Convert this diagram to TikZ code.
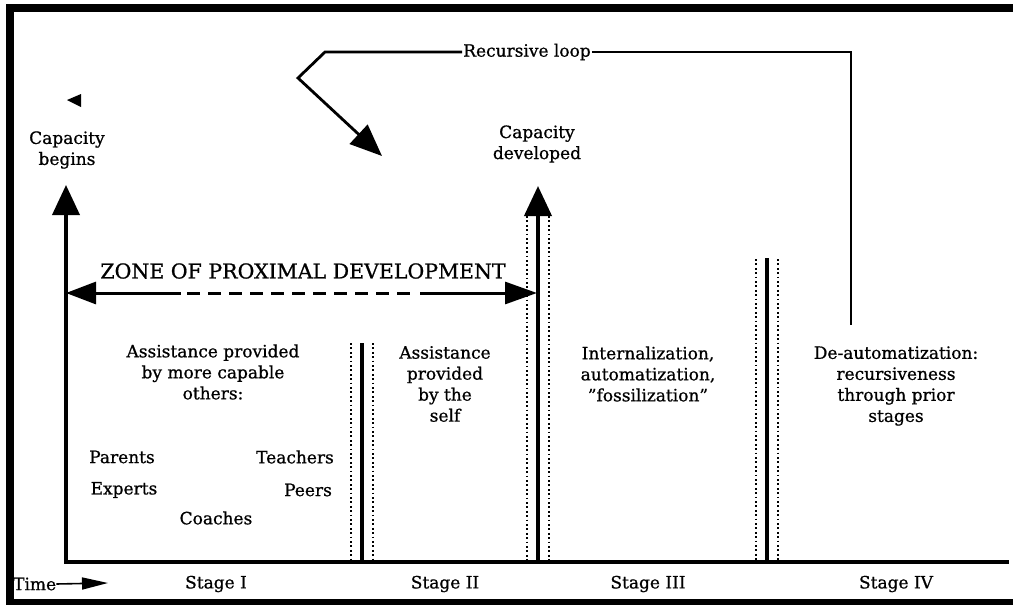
\documentclass[tikz,border=0pt]{standalone}
\usepackage{fontspec}
\setmainfont{DejaVu Serif}[FakeBold=0.8]
\usetikzlibrary{arrows.meta}
\begin{document}
\begin{tikzpicture}[x=1pt,y=-1pt,
  lbl/.style={font=\fontsize{17}{21}\selectfont, align=center, inner sep=0pt},
  axisline/.style={line width=3.8pt},
  bigtip/.style={-{Triangle[length=30pt,width=27pt]}},
  loopline/.style={line width=2.8pt},
  dotcol/.style={line width=2.4pt, dash pattern=on 1.8pt off 2.6pt},
  divline/.style={line width=4pt}]
\useasboundingbox (0,0) rectangle (1013,605);
\begin{scope}
  \clip (0,0) rectangle (1013,605);
  \draw[line width=8pt] (10,8) rectangle (1030,603);
\end{scope}

% axes
\coordinate (O) at (66,562);
\coordinate (E) at (1009,562);
\coordinate (cbtip) at (66,185);
\draw[axisline] (64.1,562) -- (E);
\draw[axisline, bigtip] (66,563.9) -- (cbtip);

% stray small triangle
\fill (67,100) -- (81,94) -- (81,107) -- cycle;

% dividers
\coordinate (d1t) at (362,343); \coordinate (d1b) at (362,562);
\coordinate (d2t) at (538,186); \coordinate (d2b) at (538,562);
\coordinate (d3t) at (767,258); \coordinate (d3b) at (767,562);
\draw[divline] (d1b) -- (d1t);
\draw[divline, bigtip] (d2b) -- (d2t);
\draw[divline] (d3b) -- (d3t);
\foreach \xx/\yt in {362/343, 538/216, 767/259} {
  \foreach \dx in {-11, 11} {
    \draw[dotcol] (\xx+\dx, \yt) -- (\xx+\dx, 560);
  }
}

% capacity labels
\node[lbl] (cb) at (67,150) {Capacity\\begins};
\node[lbl] (cd) at (537,144) {Capacity\\developed};

% ZPD
\node[lbl, font=\fontsize{20.5}{24}\selectfont] (zpd) at (303,271) {ZONE OF PROXIMAL DEVELOPMENT};
\coordinate (zl) at (66,293);
\coordinate (zr) at (537,293);
\coordinate (za) at (181,293);
\coordinate (zb) at (416,293);
\draw[line width=3pt, {Triangle[length=30pt,width=22pt]}-] (zl) -- (za);
\draw[line width=3pt, dash pattern=on 13pt off 8pt] ([xshift=6pt]za) -- (zb);
\draw[line width=3pt, -{Triangle[length=32pt,width=22pt]}] ([xshift=4pt]zb) -- (zr);

% recursive loop
\node[lbl, inner xsep=1pt] (rl) at (527,52) {Recursive loop};
\coordinate (rlc) at (851,52);
\coordinate (rld) at (851,325);
\coordinate (rla) at (325,52);
\coordinate (rlb) at (298,78);
\coordinate (rltip) at (382,156);
\draw[loopline] (rl.east) -- (rlc) -- (rld);
\draw[loopline, -{Triangle[length=32pt,width=26pt]}] (rl.west) -- (rla) -- (rlb) -- (rltip);

% stage texts
\node[lbl] (s1) at (213,372) {Assistance provided\\by more capable\\others:};
\node[lbl] (par) at (122,457) {Parents};
\node[lbl] (tea) at (295,457) {Teachers};
\node[lbl] (exp) at (124,490) {Experts};
\node[lbl] (pee) at (308,490) {Peers};
\node[lbl] (coa) at (216,518) {Coaches};
\node[lbl] (s2) at (445,384) {Assistance\\provided\\by the\\self};
\node[lbl] (s3) at (648,374) {Internalization,\\automatization,\\\symbol{34}fossilization\symbol{34}};
\node[lbl] (s4) at (896,386) {De-automatization:\\recursiveness\\through prior\\stages};

% time and stage names
\node[lbl, anchor=west] (time) at (13,584) {Time};
\coordinate (ttip) at (108,583);
\draw[line width=1.6pt, -{Triangle[length=26pt,width=12pt]}] (time.east) -- (ttip);
\node[lbl] (st1) at (216,584) {Stage I};
\node[lbl] (st2) at (445,584) {Stage II};
\node[lbl] (st3) at (648,584) {Stage III};
\node[lbl] (st4) at (896,584) {Stage IV};
\end{tikzpicture}
\end{document}
